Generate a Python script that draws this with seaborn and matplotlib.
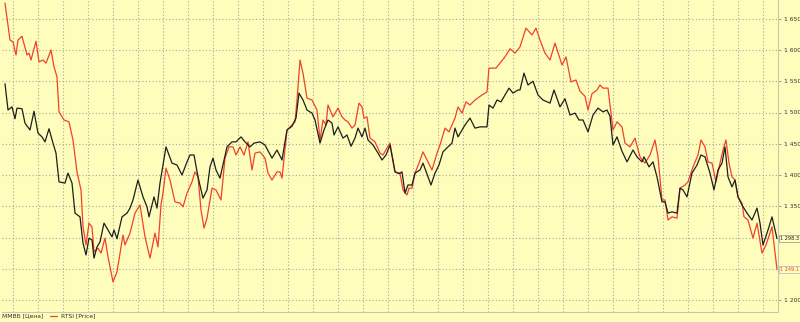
import matplotlib
matplotlib.use("Agg")
import matplotlib.pyplot as plt
import seaborn as sns
import pandas as pd

# ---- data ----
mmvb_x = [5, 8, 12, 15, 17, 22, 25, 30, 34, 38, 42, 45, 49, 53, 56, 59, 65, 68, 72, 75,
          80, 83, 86, 89, 92, 94, 97, 100, 104, 108, 112, 114, 117, 122, 127, 130, 133, 138, 143, 147,
          149, 154, 157, 160, 166, 172, 177, 182, 187, 190, 194, 198, 203, 207, 210, 213, 216, 220, 227, 232,
          236, 241, 245, 250, 254, 260, 265, 272, 277, 282, 287, 292, 296, 299, 303, 307, 312, 315, 320, 324,
          328, 332, 334, 338, 343, 347, 351, 355, 358, 362, 365, 368, 373, 378, 382, 386, 390, 395, 399, 402,
          405, 408, 412, 415, 420, 423, 431, 435, 439, 443, 448, 452, 455, 458, 462, 465, 470, 475, 480, 487,
          489, 493, 497, 501, 505, 509, 513, 518, 520, 524, 528, 533, 538, 543, 550, 554, 560, 565, 570, 575,
          579, 583, 588, 593, 598, 603, 607, 610, 613, 617, 622, 627, 633, 637, 642, 644, 649, 653, 657, 662,
          665, 668, 672, 677, 680, 683, 687, 692, 697, 701, 705, 710, 714, 718, 722, 725, 728, 732, 735, 738,
          742, 747, 752, 757, 760, 763, 768, 772, 777]
mmvb = [1546, 1504, 1509, 1490, 1507, 1506, 1483, 1472, 1502, 1467, 1461, 1453, 1474, 1451, 1435, 1389, 1387, 1403, 1387, 1339,
        1333, 1291, 1272, 1299, 1296, 1267, 1285, 1293, 1323, 1312, 1301, 1312, 1298, 1333, 1339, 1347, 1360, 1392, 1365, 1349,
        1333, 1365, 1347, 1387, 1445, 1419, 1416, 1400, 1421, 1432, 1432, 1397, 1363, 1376, 1413, 1427, 1408, 1395, 1445, 1453,
        1453, 1461, 1453, 1445, 1451, 1453, 1448, 1427, 1440, 1424, 1472, 1478, 1491, 1531, 1520, 1504, 1499, 1488, 1451, 1472,
        1488, 1483, 1464, 1477, 1459, 1464, 1446, 1459, 1475, 1461, 1475, 1456, 1448, 1435, 1424, 1432, 1448, 1405, 1402, 1405,
        1371, 1384, 1384, 1403, 1408, 1419, 1384, 1403, 1416, 1437, 1445, 1451, 1475, 1461, 1472, 1480, 1491, 1475, 1477, 1477,
        1512, 1507, 1520, 1517, 1528, 1539, 1531, 1536, 1536, 1563, 1544, 1550, 1528, 1520, 1515, 1536, 1509, 1522, 1496, 1499,
        1488, 1488, 1469, 1496, 1507, 1501, 1504, 1494, 1448, 1461, 1438, 1421, 1440, 1429, 1421, 1429, 1413, 1421, 1397, 1357,
        1357, 1339, 1341, 1339, 1379, 1376, 1365, 1403, 1416, 1432, 1429, 1403, 1376, 1408, 1419, 1445, 1397, 1381, 1392, 1365,
        1352, 1339, 1328, 1347, 1323, 1288, 1312, 1333, 1298.3]

rtsi_x = [5, 10, 13, 16, 18, 22, 27, 29, 31, 36, 39, 43, 46, 51, 54, 57, 59, 64, 69, 73,
          77, 81, 83, 86, 89, 92, 94, 98, 101, 105, 108, 113, 117, 120, 123, 125, 130, 135, 140, 145,
          150, 155, 158, 161, 163, 166, 170, 175, 180, 183, 187, 192, 195, 198, 201, 204, 207, 212, 216, 221,
          225, 229, 233, 236, 240, 244, 248, 252, 255, 260, 265, 268, 272, 277, 280, 282, 287, 292, 295, 297,
          300, 303, 307, 312, 317, 320, 323, 326, 328, 333, 338, 342, 345, 348, 352, 355, 359, 362, 364, 367,
          370, 375, 380, 383, 388, 390, 395, 400, 403, 407, 409, 412, 415, 419, 423, 427, 432, 437, 440, 445,
          449, 455, 458, 462, 466, 470, 475, 482, 487, 489, 496, 500, 505, 510, 515, 520, 526, 532, 536, 540,
          545, 550, 555, 562, 566, 571, 576, 580, 585, 588, 592, 597, 600, 603, 608, 613, 617, 622, 625, 630,
          635, 640, 645, 650, 655, 658, 662, 665, 668, 672, 677, 680, 685, 688, 693, 698, 701, 705, 708, 712,
          716, 720, 723, 726, 729, 732, 735, 738, 742, 744, 748, 753, 757, 762, 766, 772, 777]
rtsi = [1675, 1616, 1613, 1592, 1616, 1622, 1592, 1595, 1584, 1614, 1581, 1584, 1579, 1600, 1573, 1557, 1501, 1488, 1485, 1456,
        1405, 1376, 1317, 1288, 1323, 1317, 1277, 1283, 1275, 1299, 1269, 1229, 1245, 1275, 1304, 1288, 1307, 1339, 1352, 1301,
        1267, 1307, 1285, 1352, 1371, 1411, 1392, 1357, 1355, 1349, 1371, 1389, 1405, 1397, 1344, 1315, 1331, 1379, 1376, 1360,
        1427, 1445, 1445, 1432, 1445, 1432, 1453, 1408, 1435, 1437, 1427, 1403, 1392, 1405, 1405, 1395, 1472, 1480, 1485, 1520,
        1584, 1563, 1523, 1520, 1504, 1456, 1488, 1480, 1512, 1493, 1507, 1493, 1488, 1485, 1475, 1480, 1515, 1509, 1491, 1493,
        1459, 1453, 1435, 1432, 1446, 1451, 1405, 1403, 1376, 1368, 1379, 1379, 1403, 1419, 1437, 1424, 1408, 1435, 1448, 1475,
        1469, 1491, 1509, 1499, 1517, 1512, 1520, 1528, 1533, 1571, 1571, 1579, 1589, 1602, 1595, 1605, 1635, 1624, 1635, 1616,
        1595, 1584, 1611, 1576, 1589, 1549, 1552, 1534, 1526, 1504, 1530, 1536, 1544, 1539, 1539, 1472, 1485, 1477, 1451, 1445,
        1459, 1429, 1419, 1432, 1456, 1429, 1360, 1360, 1328, 1333, 1331, 1379, 1384, 1389, 1413, 1432, 1456, 1445, 1421, 1419,
        1389, 1419, 1440, 1456, 1419, 1397, 1392, 1365, 1355, 1333, 1328, 1299, 1323, 1275, 1288, 1317, 1249.1]

series_names = ["ММВБ [Цена]", "RTSI [Price]"]
y_ticks = [1200, 1250, 1300, 1350, 1400, 1450, 1500, 1550, 1600, 1650]
y_tick_labels = ["1 200", "", "", "1 350", "1 400", "1 450", "1 500", "1 550", "1 600", "1 650"]
last_labels = ["1 298.3", "1 249.1"]

# ---- styling ----
BG = "#FFFDBB"
BLACK = "#1e1e1e"
RED = "#F2402E"
FS = 4.3
FS_BOX = 3.6
Y0, Y1 = 1180.8, 1680

sns.set_style("white")
plt.rcParams["font.family"] = ["DejaVu Sans"]

df = pd.concat([
    pd.DataFrame({"x": mmvb_x, "v": mmvb, "s": series_names[0]}),
    pd.DataFrame({"x": rtsi_x, "v": rtsi, "s": series_names[1]}),
])

fig = plt.figure(figsize=(8.0, 3.22), dpi=100, facecolor=BG)
ax = fig.add_axes([2 / 800, 10 / 322, 776 / 800, 312 / 322])
ax.set_facecolor(BG)

sns.lineplot(data=df, x="x", y="v", hue="s", hue_order=series_names,
             palette=[BLACK, RED], linewidth=0.9, legend=False, ax=ax,
             estimator=None, sort=False)
lines = ax.get_lines()
if lines:
    lines[0].set_zorder(3)

ax.set_xlim(2, 778)
ax.set_ylim(Y0, Y1)

# grid
for gx in range(13, 778, 25):
    ax.axvline(gx, color="#a8a8a0", linestyle=(0, (1, 2)), linewidth=0.8, zorder=0)
for gy in y_ticks:
    ax.axhline(gy, color="#a8a8a0", linestyle=(0, (1, 2)), linewidth=0.8, zorder=0)

ax.set_xticks([])
ax.yaxis.tick_right()
ax.set_yticks(y_ticks)
ax.set_yticklabels(y_tick_labels)
ax.tick_params(axis="y", length=2.5, width=0.6, color="#909090", pad=1.5,
               labelsize=FS, labelcolor="#303030")
ax.set_xlabel("")
ax.set_ylabel("")
for side in ["top", "left"]:
    ax.spines[side].set_visible(False)
for side in ["right", "bottom"]:
    ax.spines[side].set_color("#c8c8b0")
    ax.spines[side].set_linewidth(0.8)

# last value boxes
ax.text(1.0025, (mmvb[-1] - Y0) / (Y1 - Y0), last_labels[0], transform=ax.transAxes,
        fontsize=FS_BOX, color="#202020", va="center", ha="left",
        bbox=dict(boxstyle="square,pad=0.2", fc=BG, ec="#a0a0a0", lw=0.6))
ax.text(1.0025, (rtsi[-1] - Y0) / (Y1 - Y0), last_labels[1], transform=ax.transAxes,
        fontsize=FS_BOX, color=RED, va="center", ha="left",
        bbox=dict(boxstyle="square,pad=0.2", fc=BG, ec="#c0c0c0", lw=0.6))

# legend at bottom
ly = 1 - 316 / 322
fig.text(2 / 800, ly, series_names[0], fontsize=FS, color="#303030", va="center", ha="left")
fig.add_artist(plt.Line2D([50 / 800, 57 / 800], [ly, ly], color=RED, lw=0.9))
fig.text(61 / 800, ly, series_names[1], fontsize=FS, color="#303030", va="center", ha="left")

fig.savefig("out.png", dpi=100, facecolor=BG)
